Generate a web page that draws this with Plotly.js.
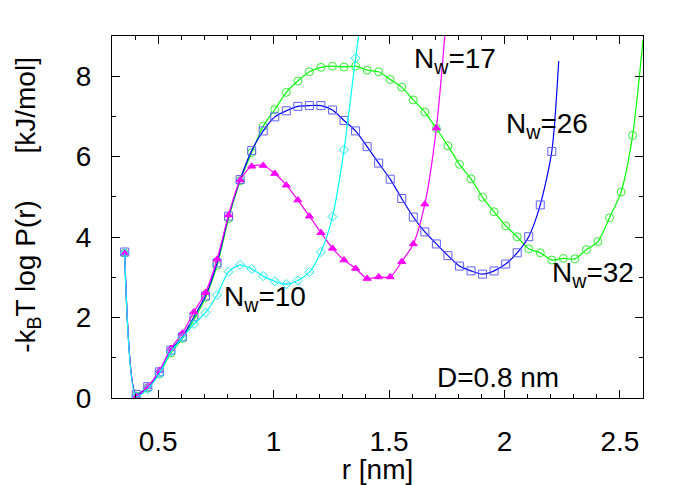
<!DOCTYPE html>
<html>
<head>
<meta charset="utf-8">
<script src="https://cdn.plot.ly/plotly-3.0.1.min.js"></script>
<style>html,body{margin:0;padding:0;background:#fff;}#chart{width:692px;height:485px;}</style>
</head>
<body>
<div id="chart"></div>
<script>
// ---- data ----
const xTickVals = [0.5, 1, 1.5, 2, 2.5];
const xTickText = ["0.5", "1", "1.5", "2", "2.5"];
const yTickVals = [0, 2, 4, 6, 8];
const yTickText = ["0", "2", "4", "6", "8"];

// N_w = 32 (green, open circles)
const r32 = [0.355,0.405,0.455,0.505,0.555,0.605,0.655,0.705,0.755,0.805,0.855,0.905,0.955,1.005,1.055,1.105,1.155,1.205,1.255,1.305,1.355,1.405,1.455,1.505,1.555,1.605,1.655,1.705,1.755,1.805,1.855,1.905,1.955,2.005,2.055,2.105,2.155,2.205,2.255,2.305,2.355,2.405,2.455,2.505,2.555];
const g32 = [3.60,0.05,0.25,0.60,1.12,1.48,1.95,2.50,3.30,4.46,5.40,6.10,6.76,7.17,7.60,7.88,8.11,8.22,8.25,8.23,8.25,8.15,8.11,7.92,7.73,7.41,7.11,6.70,6.27,5.81,5.45,4.99,4.63,4.28,4.01,3.71,3.61,3.43,3.47,3.46,3.69,3.89,4.48,5.12,6.53];
const r32End = [2.60];
const g32End = [8.90];

// N_w = 26 (blue, open squares)
const r26 = [0.355,0.405,0.455,0.505,0.555,0.605,0.655,0.705,0.755,0.805,0.855,0.905,0.955,1.005,1.055,1.105,1.155,1.205,1.255,1.305,1.355,1.405,1.455,1.505,1.555,1.605,1.655,1.705,1.755,1.805,1.855,1.905,1.955,2.005,2.055,2.105,2.155,2.205];
const g26 = [3.63,0.09,0.28,0.65,1.19,1.52,2.02,2.54,3.36,4.52,5.43,6.15,6.64,6.99,7.14,7.25,7.27,7.27,7.16,6.90,6.64,6.25,5.84,5.44,4.96,4.50,4.13,3.83,3.54,3.28,3.16,3.08,3.16,3.33,3.61,4.01,4.80,6.13];
const r26End = [2.235];
const g26End = [8.38];

// N_w = 17 (magenta, filled triangles)
const r17 = [0.355,0.405,0.455,0.505,0.555,0.605,0.655,0.705,0.755,0.805,0.855,0.905,0.955,1.005,1.055,1.105,1.155,1.205,1.255,1.305,1.355,1.405,1.455,1.505,1.555,1.605,1.655,1.705];
const g17 = [3.60,0.05,0.28,0.68,1.23,1.61,2.14,2.62,3.45,4.55,5.42,5.76,5.78,5.58,5.29,4.92,4.52,4.11,3.72,3.43,3.22,2.97,3.01,3.01,3.39,3.83,4.82,6.71];
const r17End = [1.75];
const g17End = [9.6];

// N_w = 10 (cyan, open diamonds)
const r10 = [0.355,0.405,0.455,0.505,0.555,0.605,0.655,0.705,0.755,0.805,0.855,0.905,0.955,1.005,1.055,1.105,1.155,1.205,1.255,1.305,1.355];
const g10 = [3.60,0.03,0.22,0.61,1.15,1.50,1.84,2.12,2.56,3.14,3.31,3.21,3.03,2.90,2.83,2.92,3.13,3.63,4.51,6.17,8.45];
const r10End = [1.38];
const g10End = [9.5];

const labels = ["N<sub>w</sub>=10", "N<sub>w</sub>=17", "N<sub>w</sub>=26", "N<sub>w</sub>=32", "D=0.8 nm"];
const labelR = [0.778, 1.599, 2.0, 2.196, 1.70];
const labelG = [2.48, 8.40, 6.78, 3.06, 0.50];

// ---- styling ----
const FONT = "Liberation Sans, Arial, Helvetica, sans-serif";
const series = [
  {r: r32, g: g32, re: r32End, ge: g32End, line: "#00ff00", mk: "#33ee33", sym: "circle-open", size: 8},
  {r: r26, g: g26, re: r26End, ge: g26End, line: "#0000ff", mk: "#6060ff", sym: "square-open", size: 8},
  {r: r17, g: g17, re: r17End, ge: g17End, line: "#ff00ff", mk: "#ff00ff", sym: "triangle-up", size: 7},
  {r: r10, g: g10, re: r10End, ge: g10End, line: "#00ffff", mk: "#22e8f0", sym: "diamond-open", size: 7}
];

const traces = [];
series.forEach(s => {
  traces.push({
    x: s.r.concat(s.re), y: s.g.concat(s.ge), type: "scatter", mode: "lines",
    line: {color: s.line, width: 1.2, shape: "spline", smoothing: 0.7},
    hoverinfo: "skip", showlegend: false
  });
  traces.push({
    x: s.r, y: s.g, type: "scatter", mode: "markers",
    marker: {symbol: s.sym, size: s.size, color: s.mk, line: {color: s.mk, width: 1}},
    showlegend: false, cliponaxis: true
  });
});

const annotations = labels.map((t, i) => ({
  x: labelR[i], y: labelG[i], xref: "x", yref: "y", text: t, showarrow: false,
  xanchor: "left", yanchor: "middle", font: {family: FONT, size: 28, color: "#000"}
}));
annotations.push({
  x: -0.158, y: 0.534, xref: "paper", yref: "paper", textangle: -90,
  text: "-k<sub>B</sub>T log P(r)\u00a0\u00a0\u00a0\u00a0\u00a0\u00a0[kJ/mol]",
  showarrow: false, xanchor: "center", yanchor: "middle",
  font: {family: FONT, size: 28, color: "#000"}
});

const axisCommon = {
  showgrid: false, zeroline: false, showline: true, linecolor: "#000", linewidth: 1,
  mirror: "ticks", ticks: "inside", ticklen: 8, tickwidth: 1, tickcolor: "#000",
  tickfont: {family: FONT, size: 28, color: "#000"}
};

const layout = {
  width: 692, height: 485,
  margin: {l: 112, r: 49, t: 36, b: 87},
  paper_bgcolor: "#fff", plot_bgcolor: "#fff",
  font: {family: FONT, color: "#000"},
  showlegend: false,
  xaxis: Object.assign({}, axisCommon, {
    range: [0.3, 2.6], tickmode: "array", tickvals: xTickVals, ticktext: xTickText,
    ticklabelstandoff: 18,
    minor: {dtick: 0.1, tick0: 0.3, ticks: "inside", ticklen: 4, tickcolor: "#000", showgrid: false},
    title: {text: "r [nm]", font: {family: FONT, size: 28, color: "#000"}, standoff: 8}
  }),
  yaxis: Object.assign({}, axisCommon, {
    range: [0, 9], tickmode: "array", tickvals: yTickVals, ticktext: yTickText,
    ticklabelstandoff: 14,
    minor: {dtick: 1, tick0: 0, ticks: "inside", ticklen: 4, tickcolor: "#000", showgrid: false}
  }),
  annotations: annotations
};

Plotly.newPlot("chart", traces, layout, {staticPlot: true, displayModeBar: false});
</script>
</body>
</html>
